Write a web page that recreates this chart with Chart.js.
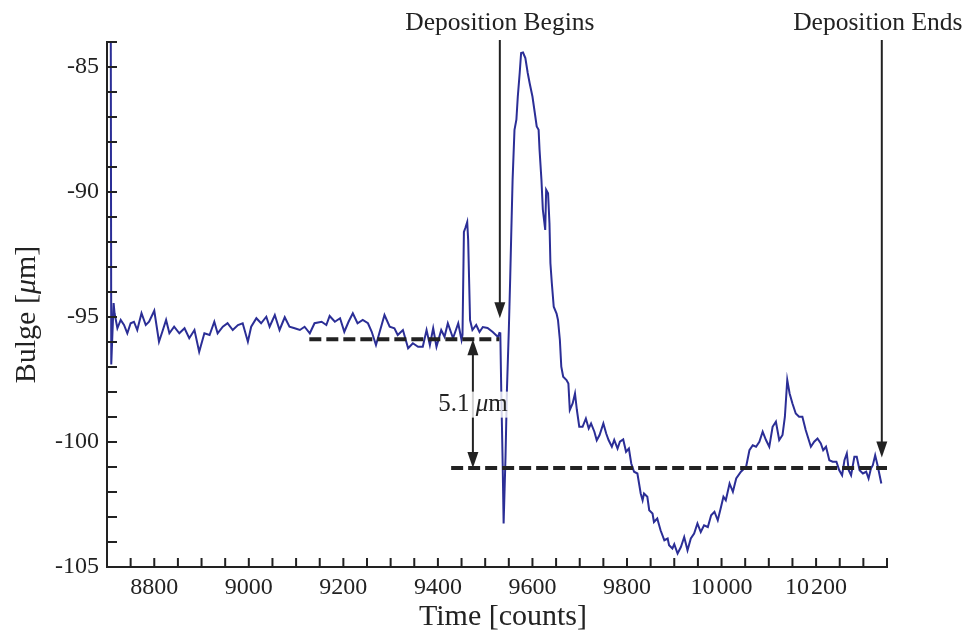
<!DOCTYPE html>
<html>
<head>
<meta charset="utf-8">
<script src="https://cdn.jsdelivr.net/npm/chart.js@4.4.0/dist/chart.umd.min.js"></script>
<style>
  html, body { margin: 0; padding: 0; background: #fff; }
  canvas { display: block; }
</style>
</head>
<body>
<canvas id="myChart" width="970" height="639"></canvas>
<script>
// time axis in counts, bulge in micrometres
const times = [
	8708, 8709, 8714, 8716, 8722, 8729, 8736, 8743, 8750, 8757, 8764, 8773, 8782, 8789, 8800, 8810,
	8817, 8825, 8832, 8842, 8853, 8864, 8874, 8885, 8895, 8906, 8917, 8927, 8934, 8945, 8955, 8966,
	8977, 8987, 8998, 9005, 9016, 9026, 9037, 9044, 9055, 9065, 9076, 9086, 9097, 9108, 9118, 9129,
	9139, 9154, 9164, 9171, 9182, 9193, 9202, 9211, 9220, 9230, 9241, 9252, 9260, 9269, 9276, 9287,
	9298, 9308, 9315, 9326, 9337, 9347, 9358, 9368, 9376, 9383, 9390, 9397, 9407, 9414, 9421, 9432,
	9443, 9450, 9452, 9455, 9458, 9462, 9464, 9468, 9473, 9481, 9488, 9495, 9505, 9516, 9527, 9530,
	9532, 9534, 9537, 9539, 9543, 9546, 9550, 9553, 9555, 9558, 9562, 9566, 9569, 9573, 9576, 9580,
	9585, 9590, 9594, 9600, 9605, 9609, 9613, 9615, 9619, 9622, 9627, 9629, 9633, 9636, 9638, 9641,
	9645, 9651, 9654, 9658, 9661, 9665, 9672, 9676, 9679, 9685, 9690, 9694, 9699, 9706, 9713, 9719,
	9724, 9731, 9736, 9742, 9750, 9756, 9761, 9768, 9773, 9780, 9785, 9792, 9798, 9804, 9809, 9815,
	9822, 9829, 9833, 9836, 9843, 9847, 9854, 9857, 9864, 9871, 9879, 9886, 9889, 9896, 9900, 9907,
	9914, 9921, 9928, 9935, 9942, 9949, 9956, 9963, 9971, 9978, 9985, 9992, 9999, 10004, 10009, 10017,
	10024, 10031, 10041, 10052, 10059, 10066, 10073, 10080, 10087, 10094, 10101, 10108, 10115, 10122, 10129, 10134,
	10139, 10144, 10150, 10157, 10164, 10171, 10178, 10189, 10196, 10203, 10210, 10215, 10221, 10228, 10235, 10243,
	10249, 10255, 10260, 10265, 10269, 10274, 10281, 10286, 10292, 10299, 10306, 10311, 10316, 10320, 10325, 10330,
	10338
];
const bulge = [
	-83.5, -96.9, -94.44, -94.85, -95.45, -95.12, -95.32, -95.65, -95.25, -95.19, -95.52, -94.85, -95.32, -95.19, -94.75, -95.99,
	-95.59, -95.12, -95.65, -95.39, -95.65, -95.45, -95.85, -95.52, -96.39, -95.65, -95.72, -95.19, -95.65, -95.39, -95.25, -95.52,
	-95.32, -95.25, -95.99, -95.39, -95.05, -95.25, -94.99, -95.39, -94.92, -95.52, -95.01, -95.39, -95.45, -95.52, -95.39, -95.65,
	-95.25, -95.19, -95.32, -94.96, -95.19, -95.05, -95.59, -95.19, -94.85, -95.25, -95.12, -95.25, -95.59, -96.12, -95.65, -94.92,
	-95.39, -95.45, -95.72, -95.52, -96.25, -96.05, -96.19, -96.19, -95.52, -96.12, -95.45, -96.19, -95.52, -95.79, -95.25, -95.85,
	-95.25, -95.92, -95.72, -91.6, -91.44, -91.2, -91.92, -95.12, -95.52, -95.32, -95.6, -95.4, -95.44, -95.6, -95.8, -95.64,
	-95.65, -97.92, -100.86, -103.26, -100.6, -97.92, -95.52, -93.39, -91.79, -89.51, -87.51, -87.11, -86.18, -85.24, -84.44, -84.42,
	-84.64, -85.24, -85.64, -86.18, -86.84, -87.38, -87.51, -88.31, -89.51, -90.71, -91.52, -89.91, -90.05, -91.25, -92.85, -93.65,
	-94.59, -94.86, -95.12, -95.92, -96.99, -97.39, -97.52, -97.66, -98.72, -98.46, -98.06, -98.72, -99.39, -99.39, -99.06, -99.46,
	-99.26, -99.59, -99.93, -99.72, -99.26, -99.66, -99.92, -100.19, -99.92, -100.26, -99.99, -99.90, -100.39, -100.26, -100.86, -101.19,
	-101.26, -102.06, -102.33, -102.06, -102.19, -102.73, -102.86, -103.20, -103.06, -103.53, -103.93, -103.86, -104.13, -104.26, -104.09, -104.46,
	-104.20, -103.80, -104.33, -103.86, -103.66, -103.26, -103.60, -103.33, -103.40, -102.93, -102.79, -103.13, -102.59, -102.19, -102.33, -101.66,
	-101.99, -101.46, -101.19, -100.99, -100.33, -100.13, -100.19, -99.99, -99.59, -99.92, -100.19, -99.39, -99.19, -99.92, -99.72, -98.99,
	-97.52, -98.06, -98.46, -98.86, -98.99, -98.99, -99.52, -100.19, -99.99, -99.86, -100.06, -100.33, -100.19, -100.73, -100.79, -100.79,
	-101.13, -101.33, -100.73, -100.46, -101.13, -101.33, -100.59, -100.59, -101.13, -101.26, -101.19, -101.46, -101.06, -100.93, -100.53, -100.93,
	-101.66
];

// mean levels before / after deposition (dashed lines)
const levelBefore = -95.89;
const levelBeforeSpan = [9128, 9530];
const levelAfter = -101.04;
const levelAfterSpan = [9428, 10350];
const stepAt = 9474;
const stepLabel = ['5.1 ', 'μ', 'm'];

// markers
const beginAt = 9531, beginTip = -95.05;
const endAt = 10339, endTip = -100.62;

// axes
const xRange = [8700, 10350];
const yRange = [-105, -84];
const xLabels = [8800, 9000, 9200, 9400, 9600, 9800, 10000, 10200];
const yLabels = [-105, -100, -95, -90, -85];

const serif = '"Liberation Serif", "DejaVu Serif", serif';
const ink = '#222';
Chart.defaults.font.family = serif;
Chart.defaults.color = ink;

function fmtTime(v) {
	const s = String(v);
	return s.length > 4 ? s.slice(0, s.length - 3) + '\u200A' + s.slice(-3) : s;
}

function minorTicks(lo, hi, step) {
	const out = [];
	for (let v = Math.ceil(lo / step) * step; v <= hi; v += step) out.push({ value: v });
	return out;
}

function arrowHead(ctx, x, y, dir) {
	// dir = 1 points down, -1 points up
	ctx.beginPath();
	ctx.moveTo(x, y);
	ctx.lineTo(x - 5.5, y - dir * 16);
	ctx.lineTo(x + 5.5, y - dir * 16);
	ctx.closePath();
	ctx.fill();
}

// draw text runs, the ones flagged italic in italic
function drawRuns(ctx, runs, size, cx, cy, rot) {
	const fonts = runs.map(r => (r.it ? 'italic ' : '') + size + 'px ' + serif);
	const widths = runs.map((r, i) => { ctx.font = fonts[i]; return ctx.measureText(r.t).width; });
	const total = widths.reduce((a, b) => a + b, 0);
	ctx.save();
	ctx.translate(cx, cy);
	ctx.rotate(rot || 0);
	ctx.textBaseline = 'middle';
	ctx.textAlign = 'left';
	let x = -total / 2;
	runs.forEach((r, i) => {
		ctx.font = fonts[i];
		ctx.fillText(r.t, x, 0);
		x += widths[i];
	});
	ctx.restore();
	return total;
}

const innerTicks = {
	id: 'innerTicks',
	afterDatasetsDraw(chart) {
		const { ctx, chartArea: a, scales: { x, y } } = chart;
		ctx.save();
		ctx.strokeStyle = ink;
		ctx.lineWidth = 2;
		ctx.beginPath();
		x.ticks.forEach(t => {
			const px = x.getPixelForValue(t.value);
			if (px < a.left + 2) return;
			ctx.moveTo(px, a.bottom);
			ctx.lineTo(px, a.bottom - 9);
		});
		y.ticks.forEach(t => {
			const py = y.getPixelForValue(t.value);
			if (py > a.bottom - 2) return;
			ctx.moveTo(a.left, py);
			ctx.lineTo(a.left + 10, py);
		});
		ctx.stroke();
		ctx.restore();
	}
};

const notes = {
	id: 'notes',
	afterDraw(chart) {
		const { ctx, chartArea: a, scales: { x, y } } = chart;
		ctx.save();
		ctx.strokeStyle = ink;
		ctx.fillStyle = ink;
		ctx.lineWidth = 2;

		// deposition markers
		[[beginAt, beginTip, 'Deposition Begins', 0], [endAt, endTip, 'Deposition Ends', -4]].forEach(([t, v, txt, dx]) => {
			const px = x.getPixelForValue(t);
			const tip = y.getPixelForValue(v);
			ctx.beginPath();
			ctx.moveTo(px, a.top - 2);
			ctx.lineTo(px, tip - 12);
			ctx.stroke();
			arrowHead(ctx, px, tip, 1);
			ctx.font = '25.5px ' + serif;
			ctx.textAlign = 'center';
			ctx.textBaseline = 'alphabetic';
			ctx.fillText(txt, px + dx, 30);
		});

		// step between the two levels
		const sx = x.getPixelForValue(stepAt);
		const top = y.getPixelForValue(levelBefore);
		const bot = y.getPixelForValue(levelAfter);
		ctx.beginPath();
		ctx.moveTo(sx, top + 12);
		ctx.lineTo(sx, bot - 12);
		ctx.stroke();
		arrowHead(ctx, sx, top, -1);
		arrowHead(ctx, sx, bot, 1);

		const mid = (top + bot) / 2 + 1;
		ctx.font = '25px ' + serif;
		const w = ctx.measureText('5.1 μm').width + 4;
		ctx.fillStyle = 'rgba(255,255,255,0.8)';
		ctx.fillRect(sx - w / 2, mid - 13, w, 26);
		ctx.fillStyle = ink;
		drawRuns(ctx, stepLabel.map((t, i) => ({ t, it: i === 1 })), 25, sx, mid, 0);

		// axis titles
		drawRuns(ctx, [{ t: 'Time [counts]' }], 30, (a.left + a.right) / 2 + 6, 617, 0);
		drawRuns(ctx, [{ t: 'Bulge [' }, { t: 'μ', it: true }, { t: 'm]' }], 30, 27, (a.top + a.bottom) / 2 + 10, -Math.PI / 2);
		ctx.restore();
	}
};

const ctx = document.getElementById('myChart');

const myChart = new Chart(ctx, {
	type: 'line',
	data: {
		datasets: [{
			label: 'before',
			data: levelBeforeSpan.map(t => ({ x: t, y: levelBefore })),
			borderColor: ink,
			borderWidth: 4,
			borderDash: [12, 5],
			pointRadius: 0,
			order: 0
		}, {
			label: 'after',
			data: levelAfterSpan.map(t => ({ x: t, y: levelAfter })),
			borderColor: ink,
			borderWidth: 4,
			borderDash: [12, 5],
			pointRadius: 0,
			order: 0
		}, {
			label: 'Bulge',
			data: times.map((t, i) => ({ x: t, y: bulge[i] })),
			borderColor: '#2b2e96',
			borderWidth: 2,
			pointRadius: 0,
			tension: 0,
			order: 1
		}]
	},
	options: {
		responsive: false,
		animation: false,
		devicePixelRatio: 1,
		layout: { padding: { top: 42, right: 83, left: 0, bottom: 0 } },
		plugins: { legend: { display: false }, tooltip: { enabled: false } },
		scales: {
			x: {
				type: 'linear',
				min: xRange[0],
				max: xRange[1],
				afterBuildTicks: s => { s.ticks = minorTicks(xRange[0], xRange[1], 50); },
				afterFit: s => { s.height = 72; },
				grid: { display: false, drawTicks: false },
				border: { display: true, color: ink, width: 2 },
				ticks: {
					autoSkip: false,
					maxRotation: 0,
					padding: 6,
					font: { size: 24 },
					color: ink,
					callback: v => xLabels.includes(v) ? fmtTime(v) : ''
				}
			},
			y: {
				type: 'linear',
				min: yRange[0],
				max: yRange[1],
				afterBuildTicks: s => { s.ticks = minorTicks(yRange[0], yRange[1], 1); },
				afterFit: s => { s.width = 107; },
				grid: { display: false, drawTicks: false },
				border: { display: true, color: ink, width: 2 },
				ticks: {
					autoSkip: false,
					padding: 8,
					font: { size: 24 },
					color: ink,
					callback: v => yLabels.includes(v) ? String(v) : ''
				}
			}
		}
	},
	plugins: [innerTicks, notes]
});
</script>
</body>
</html>
